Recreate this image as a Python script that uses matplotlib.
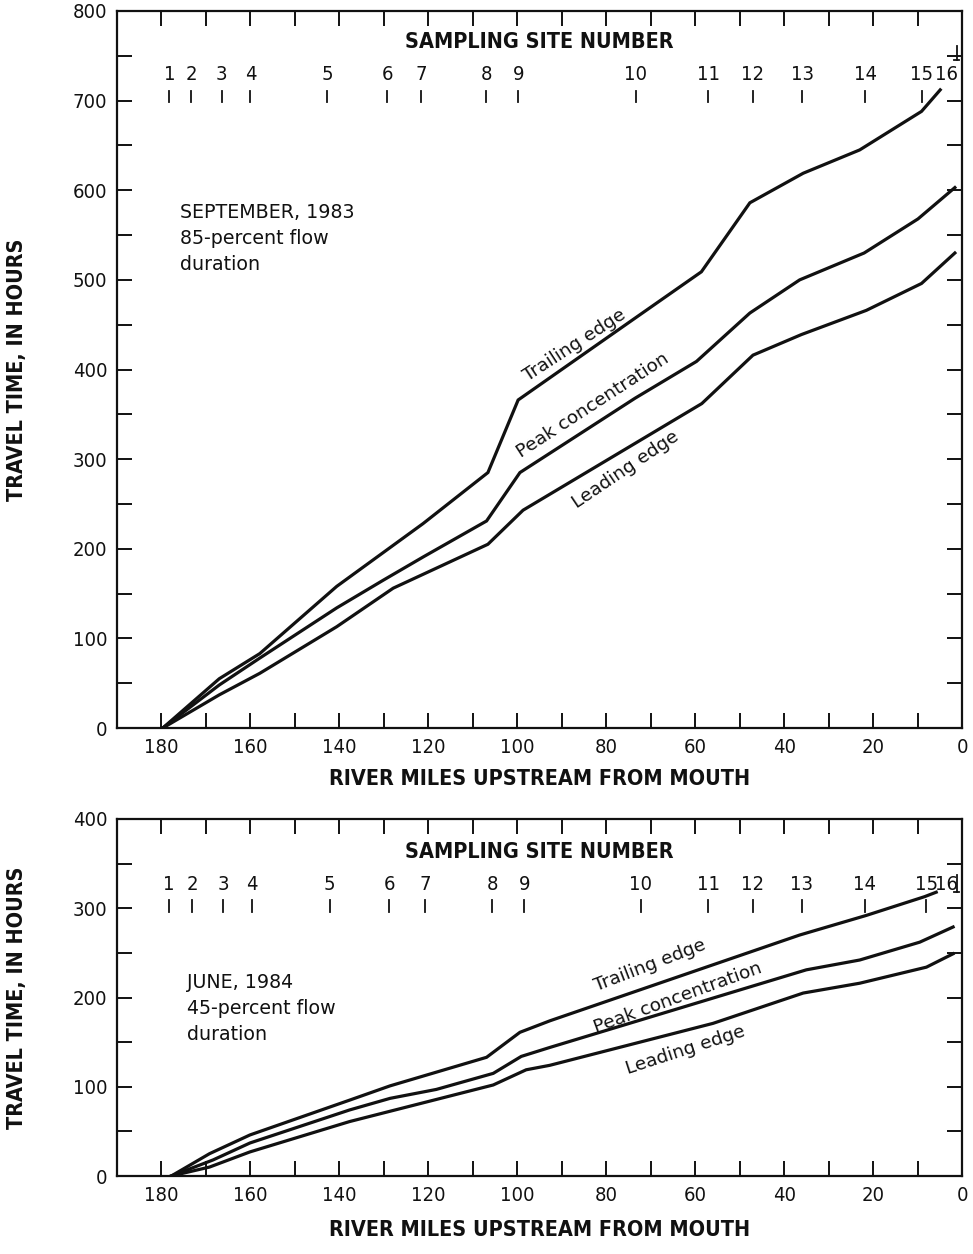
import matplotlib
matplotlib.use("Agg")
import matplotlib.pyplot as plt
from matplotlib import font_manager as fm
from matplotlib.ticker import MultipleLocator

# ---------------- data ----------------
# Sampling sites (river miles upstream from mouth)
site_numbers = [str(i) for i in range(1, 17)]
sites_sep = [178.2, 173.3, 166.5, 160.0, 142.7, 129.2, 121.6, 107.0, 99.8,
             73.4, 57.1, 47.0, 35.9, 21.7, 9.1, 1.2]
sites_jun = [178.4, 173.1, 166.1, 159.6, 142.2, 128.8, 120.8, 105.6, 98.4,
             72.2, 57.1, 47.1, 36.0, 21.9, 8.0, 1.2]

# September 1983 (85-percent flow duration) travel times, hours
sep_trail_mi = [179.7, 167.0, 157.9, 140.6, 121.2, 106.6, 99.8, 73.6, 58.6,
                47.7, 35.7, 23.0, 9.1, 4.9]
sep_trail_hr = [0, 55, 83, 158, 228, 285, 366, 457, 509, 586, 619, 645, 688, 712]
sep_peak_mi = [179.7, 167.0, 157.9, 140.6, 130.1, 121.1, 106.9, 99.4, 73.5,
               59.7, 47.7, 36.5, 22.0, 9.9, 1.6]
sep_peak_hr = [0, 48, 78, 134, 165, 191, 231, 285, 368, 409, 463, 500, 530,
               568, 603]
sep_lead_mi = [179.7, 167.0, 157.9, 140.6, 127.9, 106.6, 98.7, 58.5, 47.0,
               36.1, 21.5, 9.1, 1.6]
sep_lead_hr = [0, 37, 61, 113, 156, 205, 243, 362, 416, 439, 466, 496, 530]

# June 1984 (45-percent flow duration) travel times, hours
jun_trail_mi = [177.8, 169.2, 160.1, 137.7, 128.6, 106.9, 99.4, 92.6, 36.5,
                21.5, 8.4, 5.8]
jun_trail_hr = [0, 25, 46, 85, 101, 133, 161, 174, 270, 292, 313, 318]
jun_peak_mi = [177.8, 168.4, 160.1, 137.7, 128.6, 118.2, 105.4, 99.1, 92.7,
               35.0, 23.0, 9.5, 2.0]
jun_peak_hr = [0, 18, 37, 74, 87, 97, 115, 134, 144, 231, 242, 262, 279]
jun_lead_mi = [177.8, 169.2, 160.1, 137.7, 105.4, 98.0, 92.7, 56.0, 35.7,
               23.0, 8.0, 2.0]
jun_lead_hr = [0, 10, 27, 61, 102, 119, 124, 171, 205, 216, 234, 249]

# --------------- styling ---------------
BLACK = "#111111"
cond = fm.FontProperties(family="DejaVu Sans", stretch="condensed")
cond_bold = fm.FontProperties(family="DejaVu Sans", stretch="condensed",
                              weight="bold")
plt.rcParams["font.family"] = ["DejaVu Sans"]

W, H = 973, 1254
fig = plt.figure(figsize=(W / 100, H / 100), dpi=100)


def px_axes(left, top, right, bottom):
    return fig.add_axes([left / W, 1 - bottom / H, (right - left) / W,
                         (bottom - top) / H])


def style_axes(ax, ymax):
    ax.set_xlim(190, 0)
    ax.set_ylim(0, ymax)
    ax.xaxis.set_major_locator(MultipleLocator(20))
    ax.xaxis.set_minor_locator(MultipleLocator(10))
    ax.yaxis.set_major_locator(MultipleLocator(100))
    ax.yaxis.set_minor_locator(MultipleLocator(50))
    for which in ("major", "minor"):
        ax.tick_params(axis="both", which=which, direction="in", length=11,
                       width=1.4, color=BLACK, top=True, right=True)
    ax.tick_params(axis="both", which="major", pad=7, labelcolor=BLACK)
    for lab in ax.get_xticklabels() + ax.get_yticklabels():
        lab.set_fontproperties(cond)
        lab.set_fontsize(14.5)
    for sp in ax.spines.values():
        sp.set_linewidth(1.6)
        sp.set_color(BLACK)


def site_markers(ax, sites, tick_lo, tick_hi, num_y, title_y, last_lo, last_hi):
    for num, mi in zip(site_numbers[:-1], sites[:-1]):
        ax.plot([mi, mi], [tick_lo, tick_hi], color=BLACK, lw=1.3)
        ax.text(mi, num_y, num, ha="center", va="bottom",
                fontproperties=cond, fontsize=14.5, color=BLACK)
    mi = sites[-1]
    ax.plot([mi, mi], [last_lo, last_hi], color=BLACK, lw=1.3)
    ax.plot([mi + 0.6, mi - 0.6], [last_lo, last_lo], color=BLACK, lw=1.3)
    ax.text(mi - 0.4, num_y, site_numbers[-1], ha="right", va="bottom",
            fontproperties=cond, fontsize=14.5, color=BLACK)
    ax.text(95, title_y, "SAMPLING SITE NUMBER", ha="center", va="center",
            fontproperties=cond_bold, fontsize=15.5, color=BLACK)


def axis_labels(ax, xlab_y):
    ax.set_ylabel("TRAVEL TIME, IN HOURS", fontproperties=cond_bold,
                  fontsize=15.5, color=BLACK)
    ax.yaxis.set_label_coords(-0.1065, 0.5)
    ax.set_xlabel("RIVER MILES UPSTREAM FROM MOUTH", fontproperties=cond_bold,
                  fontsize=15.5, color=BLACK)
    ax.xaxis.set_label_coords(0.5, xlab_y)


# ---------------- top panel ----------------
ax1 = px_axes(117, 11, 962, 728)
style_axes(ax1, 800)
for mi, hr in ((sep_trail_mi, sep_trail_hr), (sep_peak_mi, sep_peak_hr),
               (sep_lead_mi, sep_lead_hr)):
    ax1.plot(mi, hr, color=BLACK, lw=2.3, solid_joinstyle="miter")
site_markers(ax1, sites_sep, 698, 711, 719, 765, 745, 761)
ax1.text(175.9, 586, "SEPTEMBER, 1983\n85-percent flow\nduration",
         ha="left", va="top", fontsize=13.7, linespacing=1.48, color=BLACK)
ax1.text(87.1, 427, "Trailing edge", rotation=33, ha="center", va="center",
         fontsize=13.3, color=BLACK)
ax1.text(83.0, 360, "Peak concentration", rotation=33, ha="center",
         va="center", fontsize=13.3, color=BLACK)
ax1.text(75.6, 288, "Leading edge", rotation=34, ha="center", va="center",
         fontsize=13.3, color=BLACK)
axis_labels(ax1, -0.057)

# ---------------- bottom panel ----------------
ax2 = px_axes(117, 819, 962, 1176)
style_axes(ax2, 400)
for mi, hr in ((jun_trail_mi, jun_trail_hr), (jun_peak_mi, jun_peak_hr),
               (jun_lead_mi, jun_lead_hr)):
    ax2.plot(mi, hr, color=BLACK, lw=2.3, solid_joinstyle="miter")
site_markers(ax2, sites_jun, 296, 309, 316, 363, 318, 337)
ax2.text(174.3, 228, "JUNE, 1984\n45-percent flow\nduration",
         ha="left", va="top", fontsize=13.7, linespacing=1.48, color=BLACK)
ax2.text(70.2, 236, "Trailing edge", rotation=21, ha="center", va="center",
         fontsize=13.3, color=BLACK)
ax2.text(63.9, 200, "Peak concentration", rotation=20, ha="center",
         va="center", fontsize=13.3, color=BLACK)
ax2.text(62.1, 141, "Leading edge", rotation=18, ha="center", va="center",
         fontsize=13.3, color=BLACK)
axis_labels(ax2, -0.123)

fig.savefig("out.png", dpi=100)
